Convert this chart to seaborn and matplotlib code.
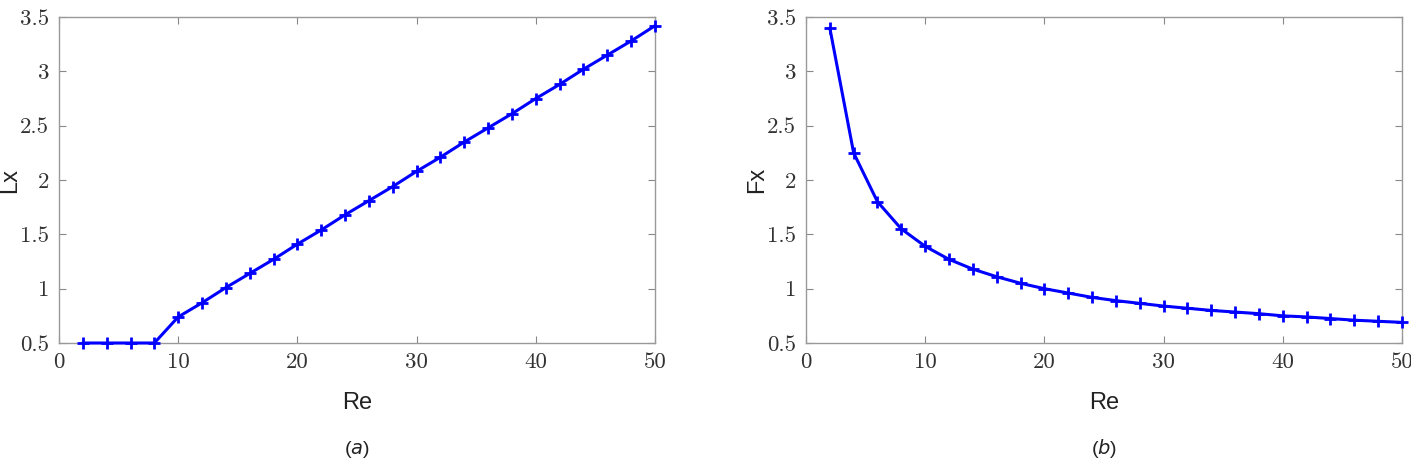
import numpy as np
import pandas as pd
import matplotlib
matplotlib.use("Agg")
import matplotlib.pyplot as plt
import seaborn as sns

# data
RE = [2, 4, 6, 8, 10, 12, 14, 16, 18, 20, 22, 24, 26, 28, 30,
      32, 34, 36, 38, 40, 42, 44, 46, 48, 50]
LX = [0.5, 0.5, 0.5, 0.5, 0.74, 0.87, 1.01, 1.14, 1.27, 1.41, 1.54, 1.68, 1.81,
      1.94, 2.08, 2.21, 2.35, 2.48, 2.61, 2.75, 2.88, 3.02, 3.15, 3.28, 3.42]
FX = [3.4, 2.25, 1.8, 1.55, 1.39, 1.27, 1.18, 1.11, 1.05, 1.0, 0.96, 0.92, 0.89,
      0.865, 0.84, 0.82, 0.80, 0.785, 0.77, 0.75, 0.74, 0.725, 0.71, 0.70, 0.69]
X_TICKS = [0, 10, 20, 30, 40, 50]
Y_TICKS = [0.5, 1, 1.5, 2, 2.5, 3, 3.5]
Y_TICK_LABELS = ["0.5", "1", "1.5", "2", "2.5", "3", "3.5"]

sns.set_style("white")
plt.rcParams["font.family"] = ["Liberation Sans", "DejaVu Sans"]

df = pd.DataFrame({"Re": RE, "Lx": LX, "Fx": FX})

fig = plt.figure(figsize=(14.11, 4.67), dpi=100)
ax_a = fig.add_axes([0.0418, 0.2655, 0.4224, 0.698])
ax_b = fig.add_axes([0.5712, 0.2655, 0.4224, 0.698])

for ax, col, tag in [(ax_a, "Lx", "a"), (ax_b, "Fx", "b")]:
    sns.lineplot(data=df, x="Re", y=col, ax=ax, color="#0000ff", linewidth=2.2,
                 marker="+", markersize=8, markeredgewidth=2.0,
                 markeredgecolor="#0000ff", clip_on=False, zorder=5)
    ax.set_xlim(0, 50)
    ax.set_ylim(0.5, 3.5)
    ax.set_xticks(X_TICKS)
    ax.set_xticklabels([str(t) for t in X_TICKS], fontfamily="cmr10", fontsize=16.5, color="#333333")
    ax.set_yticks(Y_TICKS)
    ax.set_yticklabels(Y_TICK_LABELS, fontfamily="cmr10", fontsize=16.5, color="#333333")
    ax.tick_params(direction="in", length=5, width=0.8, color="#888888",
                   top=True, right=True, bottom=True, left=True, pad=7)
    for s in ax.spines.values():
        s.set_color("#999999")
        s.set_linewidth(1.0)
    ax.set_xlabel("Re", fontsize=17, color="#222222")
    ax.set_ylabel(col, fontsize=17, color="#222222")
    ax.xaxis.set_label_coords(0.5, -0.15)
    ax.yaxis.set_label_coords(-0.064, 0.5)
    pos = ax.get_position()
    fig.text(pos.x0 + pos.width / 2, 1 - 449 / 467, "(" + r"$\it{" + tag + "}$" + ")",
             ha="center", va="center", fontsize=14, color="#222222")

fig.savefig("out.png", dpi=100)
